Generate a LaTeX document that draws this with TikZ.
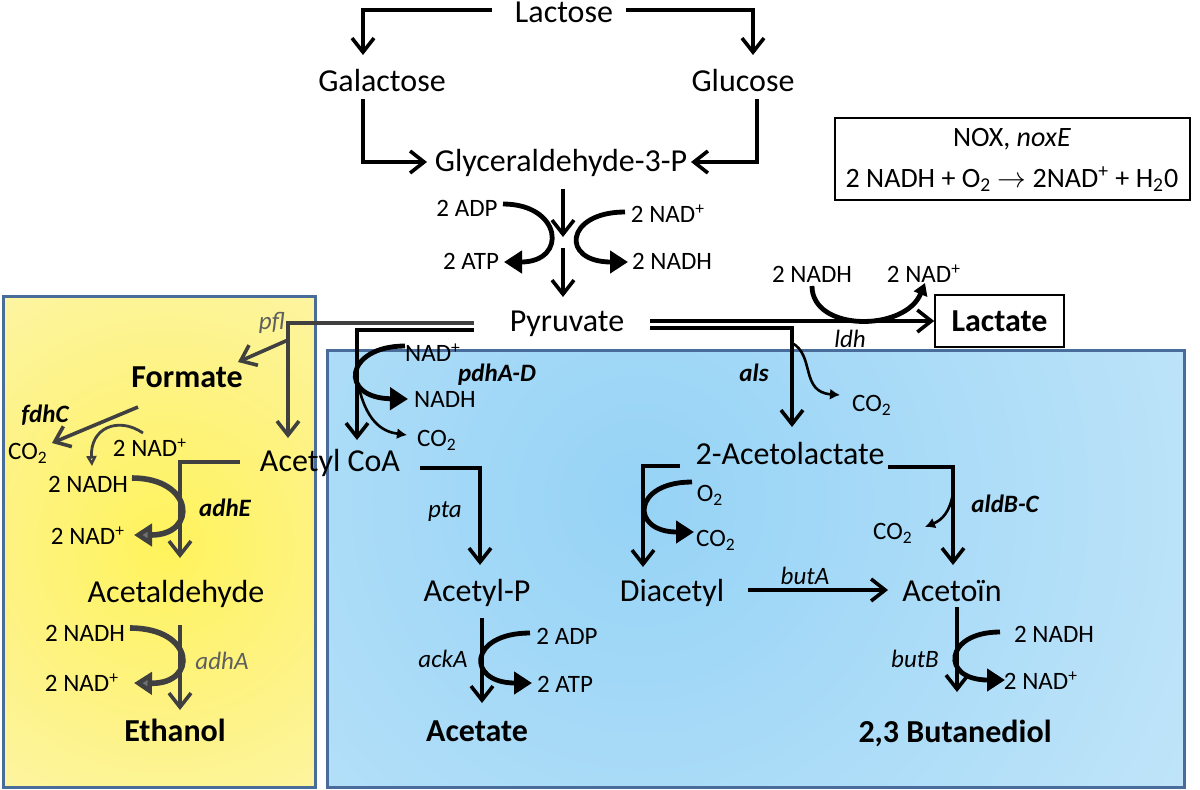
\documentclass[tikz,border=0pt]{standalone}
\usepackage{fontspec}
\setmainfont{Carlito}
\usetikzlibrary{arrows.meta}
\definecolor{boxblue}{HTML}{4A6C9B}
\definecolor{dgray}{HTML}{404040}
\definecolor{ggray}{HTML}{5F5F5F}
\definecolor{tgray}{HTML}{707070}
\definecolor{yin}{HTML}{FFF35C}
\definecolor{yout}{HTML}{FBF4C6}
\definecolor{bin}{HTML}{96D3F6}
\definecolor{bout}{HTML}{DCF0FB}
\begin{document}
\begin{tikzpicture}[x=0.5pt,y=-0.5pt,
  lbl/.style={inner sep=0pt, text height=1.5ex, text depth=0.25ex, yshift=-2pt},
  met/.style={lbl, font=\fontsize{16}{19}\selectfont},
  prod/.style={lbl, font=\fontsize{16}{19}\selectfont\bfseries},
  cof/.style={lbl, font=\fontsize{12.5}{15}\selectfont},
  gene/.style={lbl, font=\fontsize{12.5}{15}\selectfont\itshape},
  bgene/.style={lbl, font=\fontsize{12.5}{15}\selectfont\bfseries\itshape},
  rxn/.style={line width=1.8pt, -{Straight Barb[length=7pt,width=11pt]}},
  cofarr/.style={line width=2.4pt, -{Triangle[length=9pt,width=11pt]}},
  cofarrg/.style={line width=2.8pt, draw=dgray, -{Triangle[length=9pt,width=11pt,fill=tgray]}},
  thinarr/.style={line width=1.3pt, -{Latex[length=5pt,width=5.5pt]}},
  bgbox/.style={draw=boxblue, line width=1.5pt}]
\useasboundingbox (0,0) rectangle (1200,789);
\fill[white] (0,0) rectangle (1200,789);

% ---------- background boxes ----------
\begin{scope}
  \clip (3,296) rectangle (315,787);
  \shade[inner color=yin, outer color=yout] (165,545) circle[radius=225pt];
\end{scope}
\draw[bgbox] (3,296) rectangle (315,787);
\begin{scope}
  \clip (327,350) rectangle (1184,787);
  \shade[inner color=bin, outer color=bout] (640,500) circle[radius=520pt];
\end{scope}
\draw[bgbox] (327,350) rectangle (1184,787);

% ---------- upper part ----------
\node[met] (lac) at (564,13) {Lactose};
\node[met] (gal) at (382,82) {Galactose};
\node[met] (glc) at (743,82) {Glucose};
\node[met] (g3p) at (561,162) {Glyceraldehyde-3-P};
\node[cof] (adp1) at (467,207) {2 ADP};
\node[cof] (atp1) at (471,260) {2 ATP};
\node[cof] (nad1) at (668,213) {2 NAD\textsuperscript{+}};
\node[cof] (nadh1) at (672,260) {2 NADH};
\node[met] (pyr) at (567,322) {Pyruvate};

\coordinate (lacL) at (492,10);  \coordinate (galIn) at (363,55);
\coordinate (lacR) at (626,10);  \coordinate (glcIn) at (753,55);
\draw[rxn] (lacL) -| (galIn);
\draw[rxn] (lacR) -| (glcIn);
\coordinate (galOut) at (363,99); \coordinate (g3pL) at (427,162);
\coordinate (glcOut) at (757,99); \coordinate (g3pR) at (691,162);
\draw[rxn] (galOut) |- (g3pL);
\draw[rxn] (glcOut) |- (g3pR);
\coordinate (gA) at (563,189); \coordinate (gB) at (563,237);
\coordinate (gC) at (563,248); \coordinate (gD) at (563,297);
\draw[rxn] (gA) -- (gB);
\draw[rxn] (gC) -- (gD);
\draw[cofarr] (503,204) .. controls (562,204) and (568,262) .. (504,262);
\draw[cofarr] (625,212) .. controls (565,212) and (560,262) .. (628,262);

% NOX box
\node[draw, line width=0.8pt, minimum width=177.5pt, minimum height=41pt, inner sep=0pt] (nox) at (1012.5,159) {};
\node[font=\fontsize{14}{17}\selectfont, inner sep=0pt] (nox1) at (1012,139) {NOX, \textit{noxE}};
\node[font=\fontsize{14}{17}\selectfont, inner sep=0pt] (nox2) at (1012,179) {2 NADH + O\textsubscript{2} $\rightarrow$ 2NAD\textsuperscript{+} + H\textsubscript{2}0};

% Lactate
\node[draw, line width=0.8pt, minimum width=64.5pt, minimum height=26pt, inner sep=0pt] (lactbox) at (999.5,321) {};
\node[prod] (lact) at (999.5,322) {Lactate};
\node[cof] (ldhnadh) at (812,273) {2 NADH};
\node[cof] (ldhnad) at (924,273) {2 NAD\textsuperscript{+}};
\node[gene] (ldh) at (850,338) {ldh};
\coordinate (pyrR1) at (650,321);
\coordinate (pyrR2) at (650,328);
\draw[rxn] (pyrR1) -- (lactbox.west);
\draw[line width=2.4pt, -{Triangle[length=6pt,width=7pt]}] (812,286) .. controls (812,332) and (905,332) .. (925,283);

% ---------- left (yellow) ----------
\coordinate (pyrL1) at (474,323);
\coordinate (pflC) at (288,323);
\coordinate (acIn1) at (288,438);
\coordinate (pflD) at (288,340);
\draw[rxn, draw=dgray] (pyrL1) -- (pflC) -- (acIn1);
\node[gene, text=ggray] (pfl) at (272,320) {pfl};
\node[prod] (form) at (187,378) {Formate};
\draw[rxn, draw=dgray] (pflD) -- (238,362);
\node[bgene] (fdhC) at (45,413) {fdhC};
\node[cof] (co2a) at (28,450) {CO\textsubscript{2}};
\coordinate (fdhS) at (138,407); \coordinate (fdhE) at (52,443);
\draw[rxn, draw=dgray] (fdhS) -- (fdhE);
\node[cof] (nad2) at (150,447) {2 NAD\textsuperscript{+}};
\node[cof] (nadh2) at (88,483) {2 NADH};
\draw[line width=1.4pt, draw=dgray, -{Triangle[open,length=5pt,width=5pt]}] (143,433) .. controls (118,416) and (90,428) .. (92,466);
\node[met] (acoa) at (330,462) {Acetyl CoA};
\coordinate (acL) at (240,462);
\draw[rxn, draw=dgray] (acL) -- (180,462) -- (180,558);
\node[bgene] (adhE) at (225,507) {adhE};
\node[cof] (nad3) at (88,535) {2 NAD\textsuperscript{+}};
\draw[cofarrg] (132,478) .. controls (194,478) and (198,535) .. (134,535);
\node[met] (acald) at (176,593) {Acetaldehyde};
\node[cof] (nadh3) at (85,632) {2 NADH};
\node[cof] (nad4) at (82,682) {2 NAD\textsuperscript{+}};
\node[gene, text=ggray] (adhA) at (222,660) {adhA};
\coordinate (acaOut) at (180,625); \coordinate (etIn) at (180,710);
\draw[rxn, draw=dgray] (acaOut) -- (etIn);
\draw[cofarrg] (130,628) .. controls (195,628) and (198,684) .. (134,683);
\node[prod] (eth) at (175,732) {Ethanol};

% ---------- middle (acetate) ----------
\coordinate (pyrL2) at (474,330);
\coordinate (pdhIn) at (357,440);
\draw[rxn] (pyrL2) -| (pdhIn);
\node[cof] (nad5) at (433,352) {NAD\textsuperscript{+}};
\node[bgene] (pdh) at (497,372) {pdhA-D};
\node[cof] (nadh5) at (445,398) {NADH};
\node[cof] (co2b) at (437,437) {CO\textsubscript{2}};
\draw[cofarr] (405,346) .. controls (345,346) and (338,398) .. (408,399);
\draw[thinarr] (359,388) .. controls (368,425) and (385,432) .. (407,435);
\coordinate (acR) at (420,468);
\coordinate (ptaIn) at (480,565);
\draw[rxn] (acR) -| (ptaIn);
\node[gene] (pta) at (445,508) {pta};
\node[met] (acp) at (477,592) {Acetyl-P};
\coordinate (ackOut) at (482,618); \coordinate (ackIn) at (482,703);
\draw[rxn] (ackOut) -- (ackIn);
\node[gene] (ackA) at (443,658) {ackA};
\node[cof] (adp2) at (567,635) {2 ADP};
\node[cof] (atp2) at (565,683) {2 ATP};
\draw[cofarr] (530,633) .. controls (468,633) and (466,683) .. (532,683);
\node[prod] (acet) at (477,732) {Acetate};

% ---------- right (butanediol) ----------
\coordinate (alsIn) at (792,427);
\draw[rxn] (pyrR2) -| (alsIn);
\node[bgene] (als) at (754,372) {als};
\node[cof] (co2c) at (872,402) {CO\textsubscript{2}};
\draw[thinarr] (792,343) .. controls (815,355) and (800,392) .. (840,395);
\node[met] (alac) at (790,455) {2-Acetolactate};
\coordinate (alL) at (680,466); \coordinate (diaIn) at (643,567);
\draw[rxn] (alL) -| (diaIn);
\node[cof] (o2) at (710,492) {O\textsubscript{2}};
\node[cof] (co2d) at (716,537) {CO\textsubscript{2}};
\draw[cofarr] (692,482) .. controls (632,482) and (630,532) .. (694,532);
\node[met] (dia) at (672,592) {Diacetyl};
\coordinate (butAs) at (748,590); \coordinate (butAe) at (888,590);
\draw[rxn] (butAs) -- (butAe);
\node[gene] (butA) at (805,575) {butA};
\coordinate (alR) at (888,467); \coordinate (actIn) at (953,565);
\draw[rxn] (alR) -| (actIn);
\node[bgene] (aldB) at (1005,503) {aldB-C};
\node[cof] (co2e) at (893,530) {CO\textsubscript{2}};
\draw[thinarr] (953,493) .. controls (950,512) and (942,520) .. (925,527);
\node[met] (acetoin) at (952,592) {Aceto\"in};
\coordinate (butBs) at (957,607); \coordinate (butBe) at (957,692);
\draw[rxn] (butBs) -- (butBe);
\node[gene] (butB) at (915,658) {butB};
\node[cof] (nadh6) at (1054,633) {2 NADH};
\node[cof] (nad6) at (1041,680) {2 NAD\textsuperscript{+}};
\draw[cofarr] (1000,632) .. controls (944,632) and (940,680) .. (1005,680);
\node[prod] (btd) at (955,733) {2,3 Butanediol};
\end{tikzpicture}
\end{document}
